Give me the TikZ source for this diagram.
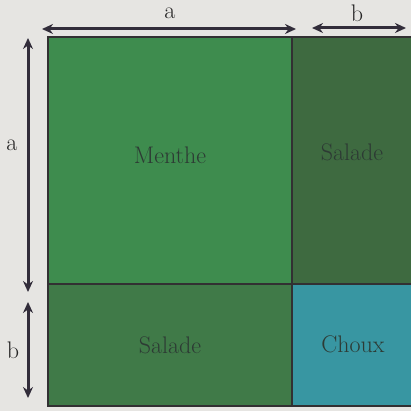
\documentclass[tikz,border=0pt]{standalone}
\usetikzlibrary{arrows.meta}
\definecolor{bg}{RGB}{230,229,226}
\definecolor{menthe}{RGB}{62,140,78}
\definecolor{saladeA}{RGB}{62,106,64}
\definecolor{saladeB}{RGB}{64,122,72}
\definecolor{choux}{RGB}{56,150,162}
\definecolor{edge}{RGB}{50,48,50}
\definecolor{txt}{RGB}{45,58,52}
\definecolor{arr}{RGB}{50,45,58}
\begin{document}
\begin{tikzpicture}[x=1pt,y=-1pt,
  plot/.style={draw=edge,line width=1.8pt},
  lab/.style={text=txt,font=\fontsize{24}{28}\selectfont},
  dim/.style={draw=arr,line width=3pt,{Stealth[length=11pt,width=10pt]}-{Stealth[length=11pt,width=10pt]}},
  dimlab/.style={text=black!85,font=\fontsize{24}{28}\selectfont}]
\fill[bg] (0,0) rectangle (411,411);
\useasboundingbox (0,0) rectangle (411,411);
% plots
\path[plot,fill=menthe] (48,37) rectangle (292,284);
\path[plot,fill=saladeA] (292,37) rectangle (413,284);
\path[plot,fill=saladeB] (48,284) rectangle (292,406);
\path[plot,fill=choux] (292,284) rectangle (413,406);
\node[lab] (m) at (170,155) {Menthe};
\node[lab] (s1) at (352,152) {Salade};
\node[lab] (s2) at (170,345) {Salade};
\node[lab] (c) at (353,344) {Choux};
% dimensions
\coordinate (ta1) at (42,29);
\coordinate (ta2) at (296,29);
\coordinate (tb1) at (312,28);
\coordinate (tb2) at (406,28);
\coordinate (la1) at (28,38);
\coordinate (la2) at (28,292);
\coordinate (lb1) at (28,302);
\coordinate (lb2) at (28,398);
\draw[dim] (ta1) -- (ta2);
\draw[dim] (tb1) -- (tb2);
\draw[dim] (la1) -- (la2);
\draw[dim] (lb1) -- (lb2);
\node[dimlab] (a1) at (170,13) {a};
\node[dimlab] (b1) at (357,13) {b};
\node[dimlab] (a2) at (12,145) {a};
\node[dimlab] (b2) at (13,350) {b};
\end{tikzpicture}
\end{document}
